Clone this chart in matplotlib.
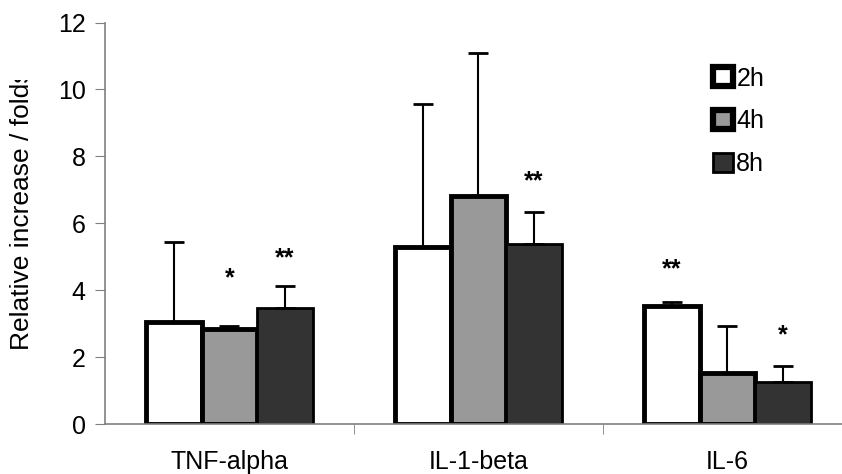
import matplotlib
matplotlib.use('Agg')
import matplotlib.pyplot as plt
from matplotlib.patches import Patch
from matplotlib.transforms import Bbox, TransformedBbox
import numpy as np

plt.rcParams['font.family'] = ['Liberation Sans', 'DejaVu Sans']

categories = ['TNF-alpha', 'IL-1-beta', 'IL-6']
series = ['2h', '4h', '8h']
vals_2h = [3.06, 5.30, 3.53]
vals_4h = [2.83, 6.82, 1.51]
vals_8h = [3.48, 5.37, 1.26]
err_2h = [2.37, 4.25, 0.12]
err_4h = [0.11, 4.28, 1.42]
err_8h = [0.65, 0.97, 0.47]
stars_2h = ['', '', '**']
stars_4h = ['*', '', '']
stars_8h = ['**', '**', '*']

fig = plt.figure(figsize=(8.42, 4.74), dpi=100)
ax = fig.add_axes([105/842, 50/474, 737/842, 401.5/474])

x = np.arange(len(categories))
w = 0.223
colors = ['white', '#999999', '#333333']
lws = [3.5, 3.5, 2.0]
allvals = [vals_2h, vals_4h, vals_8h]
allerr = [err_2h, err_4h, err_8h]
allstars = [stars_2h, stars_4h, stars_8h]
star_off = [[0, 0, 0.75], [1.2, 0, 0], [0.6, 0.7, 0.7]]  # star height above error bar

for i in range(3):
    pos = x + (i - 1) * w
    ax.bar(pos, allvals[i], w, color=colors[i], edgecolor='black', linewidth=lws[i], zorder=2)
    ax.errorbar(pos, allvals[i], yerr=[np.zeros(3), allerr[i]], fmt='none',
                ecolor='black', elinewidth=1.5, capsize=7, capthick=2, zorder=3)
    for j in range(3):
        if allstars[i][j]:
            ax.text(pos[j], allvals[i][j] + allerr[i][j] + star_off[i][j] - 0.15, allstars[i][j],
                    ha='center', va='bottom', fontsize=18, fontweight='bold')

ax.set_xlim(-0.5, 2.46)
ax.set_ylim(0, 12)
ax.set_yticks([0, 2, 4, 6, 8, 10, 12])
ax.set_xticks(x)
ax.set_xticklabels(categories)
ax.set_xticks([0.5, 1.5], minor=True)
ax.tick_params(axis='x', which='major', length=0, pad=19, labelsize=18)
ax.tick_params(axis='x', which='minor', length=7, direction='out', color='#808080')
ax.tick_params(axis='y', length=7, direction='out', color='#808080', labelsize=18, pad=7)
for s in ['top', 'right']:
    ax.spines[s].set_visible(False)
for s in ['left', 'bottom']:
    ax.spines[s].set_color('#808080')
    ax.spines[s].set_linewidth(1.2)

# y label, cut off at the top like in the original
ylab = fig.text(22/842, 1 - 350/474, 'Relative increase / folds', rotation=90,
                ha='center', va='bottom', fontsize=19)
ylab.set_clip_box(TransformedBbox(Bbox([[0, 0], [1, 1 - 80/474]]), fig.transFigure))
ylab.set_clip_on(True)

handles = [Patch(facecolor=colors[i], edgecolor='black', linewidth=[4.5, 4.5, 2.0][i]) for i in range(3)]
fig.legend(handles, series, loc='upper left', bbox_to_anchor=(690/842, 1 - 44/474),
           frameon=False, fontsize=18, handlelength=0.8, handleheight=0.8,
           handletextpad=0.15, labelspacing=0.75)

fig.savefig('out.png', dpi=100)
